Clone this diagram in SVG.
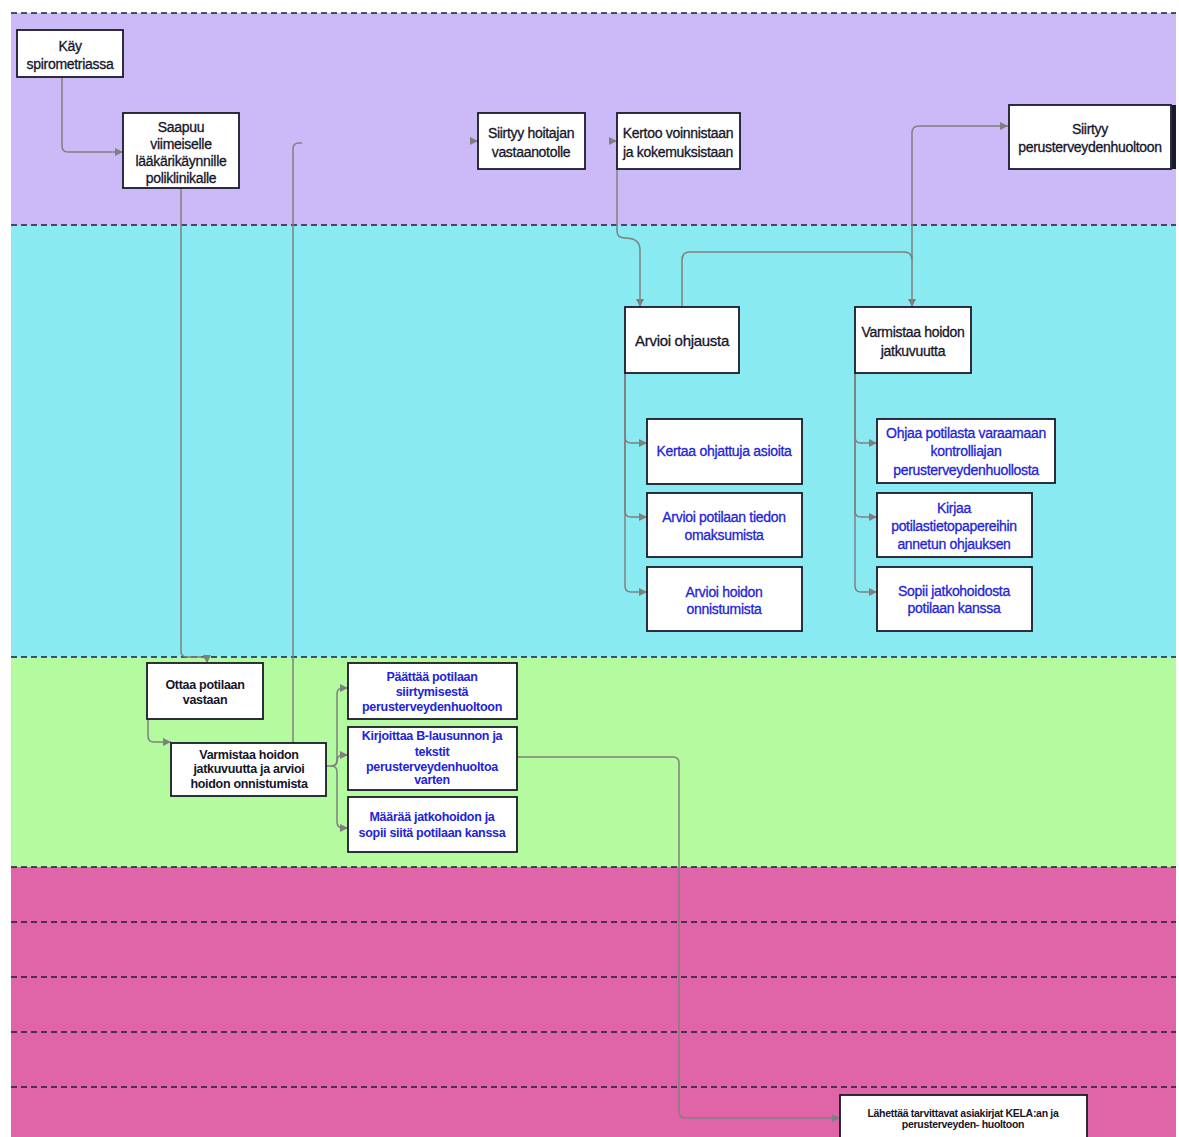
<svg xmlns="http://www.w3.org/2000/svg" width="1179" height="1137" viewBox="0 0 1179 1137">
<defs>
<marker id="arr" markerUnits="userSpaceOnUse" markerWidth="9" markerHeight="9" refX="8" refY="4" orient="auto"><path d="M0,0 L8,4 L0,8 z" fill="#7f7f7f"/></marker>
<style>
.lane-sep{stroke:#1c1c3a;stroke-width:1.5;stroke-dasharray:6 4;fill:none}
.node{fill:#fff;stroke:#1a1a2a;stroke-width:1.8}
.t{font-family:"Liberation Sans",Arial,sans-serif;font-size:14px;fill:#15152a;stroke:#15152a;stroke-width:0.3px;text-anchor:middle;letter-spacing:-0.3px}
.b{fill:#2323d8;stroke:#2323d8}
.g{font-size:12.5px;font-weight:bold;stroke-width:0}
.c{fill:none;stroke:#808080;stroke-width:1.5;marker-end:url(#arr)}
.cn{fill:none;stroke:#808080;stroke-width:1.5}
</style>
</defs>
<rect width="1179" height="1137" fill="#fff"/>
<g id="lanes">
<rect x="11" y="13" width="1165" height="212" fill="#cbb9f8"/>
<rect x="11" y="225" width="1165" height="432" fill="#8aeaf2"/>
<rect x="11" y="657" width="1165" height="210" fill="#b4fa9e"/>
<rect x="11" y="867" width="1165" height="270" fill="#e064a8"/>
<line class="lane-sep" x1="11" y1="13" x2="1176" y2="13"/>
<line class="lane-sep" x1="11" y1="225" x2="1176" y2="225"/>
<line class="lane-sep" x1="11" y1="657" x2="1176" y2="657"/>
<line class="lane-sep" x1="11" y1="867" x2="1176" y2="867"/>
<line class="lane-sep" x1="11" y1="922" x2="1176" y2="922"/>
<line class="lane-sep" x1="11" y1="977" x2="1176" y2="977"/>
<line class="lane-sep" x1="11" y1="1032" x2="1176" y2="1032" stroke-width="2.5"/>
<line class="lane-sep" x1="11" y1="1087" x2="1176" y2="1087"/>
</g>
<g id="connectors">
<path class="c" d="M62,77 V146 Q62,152 68,152 H123"/>
<path class="c" d="M181,188 V651 Q181,657 187,657 H201 Q207,657 207,663"/>
<path class="cn" d="M293,743 V149 Q293,143 299,143 H302"/>
<path class="c" d="M472,141 H478"/>
<path class="c" d="M611,141 H617"/>
<path class="c" d="M617,169 V231 Q617,238 625,238 Q640,238 640,250 V307"/>
<path class="c" d="M682,307 V260 Q682,252 690,252 H904 Q912,252 912,260 V307"/>
<path class="c" d="M912,260 V133 Q912,126 919,126 H1008"/>
<path class="c" d="M625,373 V437 Q625,443 631,443 H647"/>
<path class="c" d="M625,373 V511 Q625,517 631,517 H647"/>
<path class="c" d="M625,373 V586 Q625,592 631,592 H647"/>
<path class="c" d="M855,373 V437 Q855,443 861,443 H877"/>
<path class="c" d="M855,373 V511 Q855,517 861,517 H877"/>
<path class="c" d="M855,373 V586 Q855,592 861,592 H877"/>
<path class="c" d="M148,719 V736 Q148,742 154,742 H171"/>
<path class="c" d="M326,766 H331 Q337,766 337,760 V694 Q337,688 343,688 H348"/>
<path class="c" d="M331,766 Q337,766 337,761 Q337,755 343,755 H348"/>
<path class="c" d="M331,766 Q337,766 337,772 V822 Q337,828 343,828 H348"/>
<path class="c" d="M517,757 H673 Q679,757 679,763 V1111 Q679,1118 686,1118 H840"/>
</g>
<g id="n-kay"><rect class="node" x="17" y="30" width="106" height="47"/><text class="t" x="70" y="51">Käy</text><text class="t" x="70" y="69">spirometriassa</text></g>
<g id="n-saapuu"><rect class="node" x="123" y="113" width="116" height="75"/><text class="t" x="181" y="132">Saapuu</text><text class="t" x="181" y="149">viimeiselle</text><text class="t" x="181" y="166">lääkärikäynnille</text><text class="t" x="181" y="183">poliklinikalle</text></g>
<g id="n-siirtyy-hoitajan"><rect class="node" x="478" y="113" width="107" height="56"/><text class="t" x="531" y="138">Siirtyy hoitajan</text><text class="t" x="531" y="157">vastaanotolle</text></g>
<g id="n-kertoo"><rect class="node" x="617" y="113" width="123" height="56"/><text class="t" x="678" y="138">Kertoo voinnistaan</text><text class="t" x="678" y="157">ja kokemuksistaan</text></g>
<g id="n-siirtyy-peruster"><rect class="node" x="1009" y="105" width="162" height="64"/><text class="t" x="1090" y="134">Siirtyy</text><text class="t" x="1090" y="152">perusterveydenhuoltoon</text></g>
<g id="n-edge"><rect x="1172" y="105" width="4" height="64" fill="#1a1a2a"/></g>
<g id="n-arvioi-ohjausta"><rect class="node" x="625" y="307" width="114" height="66"/><text class="t" x="682" y="346" style="font-size:15px">Arvioi ohjausta</text></g>
<g id="n-varmistaa-jatk"><rect class="node" x="855" y="307" width="116" height="66"/><text class="t" x="913" y="337">Varmistaa hoidon</text><text class="t" x="913" y="356">jatkuvuutta</text></g>
<g id="n-kertaa"><rect class="node" x="647" y="419" width="155" height="65"/><text class="t b" x="724" y="456">Kertaa ohjattuja asioita</text></g>
<g id="n-arvioi-tiedon"><rect class="node" x="647" y="493" width="155" height="64"/><text class="t b" x="724" y="522">Arvioi potilaan tiedon</text><text class="t b" x="724" y="540">omaksumista</text></g>
<g id="n-arvioi-hoidon"><rect class="node" x="647" y="567" width="155" height="64"/><text class="t b" x="724" y="597">Arvioi hoidon</text><text class="t b" x="724" y="614">onnistumista</text></g>
<g id="n-ohjaa"><rect class="node" x="877" y="419" width="178" height="64"/><text class="t b" x="966" y="438">Ohjaa potilasta varaamaan</text><text class="t b" x="966" y="456">kontrolliajan</text><text class="t b" x="966" y="475">perusterveydenhuollosta</text></g>
<g id="n-kirjaa"><rect class="node" x="877" y="493" width="155" height="64"/><text class="t b" x="954" y="513">Kirjaa</text><text class="t b" x="954" y="531">potilastietopapereihin</text><text class="t b" x="954" y="549">annetun ohjauksen</text></g>
<g id="n-sopii"><rect class="node" x="877" y="567" width="155" height="64"/><text class="t b" x="954" y="596">Sopii jatkohoidosta</text><text class="t b" x="954" y="613">potilaan kanssa</text></g>
<g id="n-ottaa"><rect class="node" x="147" y="663" width="116" height="56"/><text class="t g" x="205" y="689">Ottaa potilaan</text><text class="t g" x="205" y="704">vastaan</text></g>
<g id="n-varmistaa-arvioi"><rect class="node" x="171" y="743" width="155" height="53"/><text class="t g" x="249" y="759">Varmistaa hoidon</text><text class="t g" x="249" y="773">jatkuvuutta ja arvioi</text><text class="t g" x="249" y="788">hoidon onnistumista</text></g>
<g id="n-paattaa"><rect class="node" x="348" y="663" width="169" height="56"/><text class="t g b" x="432" y="681">Päättää potilaan</text><text class="t g b" x="432" y="696">siirtymisestä</text><text class="t g b" x="432" y="711">perusterveydenhuoltoon</text></g>
<g id="n-kirjoittaa"><rect class="node" x="348" y="727" width="169" height="63"/><text class="t g b" x="432" y="740">Kirjoittaa B-lausunnon ja</text><text class="t g b" x="432" y="756">tekstit</text><text class="t g b" x="432" y="771">perusterveydenhuoltoa</text><text class="t g b" x="432" y="784">varten</text></g>
<g id="n-maaraa"><rect class="node" x="348" y="797" width="169" height="55"/><text class="t g b" x="432" y="821">Määrää jatkohoidon ja</text><text class="t g b" x="432" y="837">sopii siitä potilaan kanssa</text></g>
<g id="n-lahettaa"><rect class="node" x="840" y="1095" width="247" height="60"/><text class="t" x="963" y="1117" style="font-size:10.5px;font-weight:bold;stroke-width:0">Lähettää tarvittavat asiakirjat KELA:an ja</text><text class="t" x="963" y="1128" style="font-size:10.5px;font-weight:bold;stroke-width:0">perusterveyden- huoltoon</text></g>
</svg>
